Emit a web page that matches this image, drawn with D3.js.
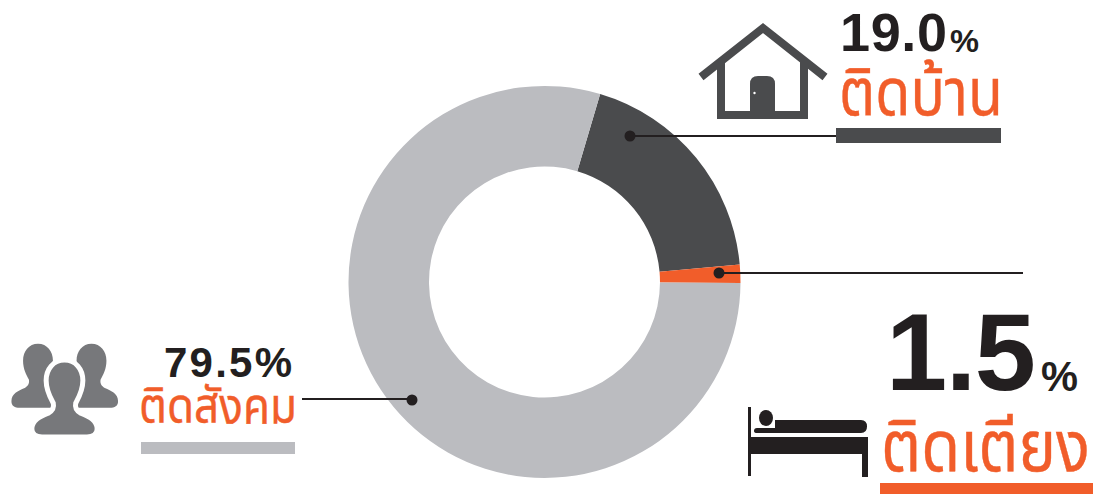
<!DOCTYPE html>
<html><head><meta charset="utf-8">
<script src="https://cdn.jsdelivr.net/npm/d3@7"></script>
<style>html,body{margin:0;background:#fff}svg{display:block}
text{font-family:"Liberation Sans",Arial,sans-serif}
.th{font-family:"Noto Sans","Noto Sans Thai","Open Sans",sans-serif;font-weight:400;fill:#f15d2a;stroke:#f15d2a;stroke-width:.4}
.num{font-weight:700;fill:#231f20}</style></head><body>
<svg width="1094" height="494"></svg>
<script>
const categories=["ติดบ้าน","ติดเตียง","ติดสังคม"];
const values=[19.0,1.5,79.5];
const drawnSweepDegrees=[68.4,5.4,286.2];
const colors=["#4a4b4d","#f15d2a","#bbbcc0"];
const svg=d3.select("svg");
const cx=544.5,cy=282,R=196,r=115.5;
const start=16.5*Math.PI/180;
const pie=d3.pie().sort(null).startAngle(start).endAngle(start+2*Math.PI);
const arcs=pie(drawnSweepDegrees);
const arc=d3.arc().innerRadius(r).outerRadius(R);
svg.append("g").attr("transform",`translate(${cx},${cy})`).selectAll("path").data(arcs).join("path")
 .attr("d",arc).attr("fill",(d,i)=>colors[i]);
const line=(x1,y1,x2,y2)=>svg.append("line").attr("x1",x1).attr("y1",y1).attr("x2",x2).attr("y2",y2).attr("stroke","#231f20").attr("stroke-width",2);
const dot=(x,y)=>svg.append("circle").attr("cx",x).attr("cy",y).attr("r",5.5).attr("fill","#231f20");
line(630,136,840,136);dot(630,136);
line(719,273,1023,273);dot(719,273);
line(302,399,412,399);dot(412,400);
svg.append("rect").attr("x",836).attr("y",128).attr("width",165).attr("height",15).attr("fill",colors[0]);
svg.append("rect").attr("x",880).attr("y",483).attr("width",213).attr("height",11).attr("fill",colors[1]);
svg.append("rect").attr("x",141).attr("y",442).attr("width",154).attr("height",12).attr("fill",colors[2]);
const T=(s,x,y,fs,cls,len,adj)=>{const t=svg.append("text").text(s).attr("x",x).attr("y",y).attr("font-size",fs).attr("class",cls);
 if(len)t.attr("textLength",len).attr("lengthAdjust",adj||"spacingAndGlyphs");return t;};
T(values[0].toFixed(1),840,51,54,"num",107,"spacing");T("%",950,51.500,32,"num",29);
T(values[1].toFixed(1),886,390,110,"num",150,"spacing");T("%",1041,390.500,43,"num",37);
T(values[2].toFixed(1)+"%",164,377,42,"num",128,"spacing");
T(categories[0],839,115,66,"th",164);
T(categories[1],881,471,72,"th",209);
T(categories[2],139,423,50,"th",158);
// house icon
svg.append("path").attr("d","M701 77L763 28L825 77").attr("fill","none").attr("stroke",colors[0]).attr("stroke-width",8);
svg.append("path").attr("d","M721 62V115H804V62").attr("fill","none").attr("stroke",colors[0]).attr("stroke-width",8);
svg.append("path").attr("d","M750 115V84Q750 76 758 76H767Q775 76 775 84V115Z").attr("fill",colors[0]);
svg.append("circle").attr("cx",754.5).attr("cy",93).attr("r",1.2).attr("fill","#fff");
// bed icon
const bk="#231f20";
svg.append("path").attr("fill",bk).attr("d","M748 407H751V476H748Z M751 437H868V477H862V454H751Z");
svg.append("ellipse").attr("cx",766).attr("cy",418).attr("rx",7).attr("ry",8).attr("fill",bk);
svg.append("path").attr("fill",bk).attr("d","M775 420H861Q867 420 867 426.500Q867 433 861 433H757Q754 433 754 431Q754 428 757 428H775Z");
// people icon
const g="#77787b";
const person=(x,y,sx,sy,stroke)=>svg.append("path").attr("transform",`translate(${x},${y}) scale(${sx},${sy})`)
 .attr("vector-effect","non-scaling-stroke")
 .attr("d","M0 -30C-11 -30 -18 -22 -18 -12C-18 -3 -14 3 -11 8C-10 12 -12 15 -16 17C-24 20 -32 23 -32 31C-32 36 -28 38 -22 38H22C28 38 32 36 32 31C32 23 24 20 16 17C12 15 10 12 11 8C14 3 18 -3 18 -12C18 -22 11 -30 0 -30Z")
 .attr("fill",g).attr("stroke",stroke?"#fff":"none").attr("stroke-width",stroke?5:0);
person(38,372,.83,.94,false);person(91.500,372,.83,.94,false);person(64.500,394,1.02,1.13,true);
</script></body></html>
